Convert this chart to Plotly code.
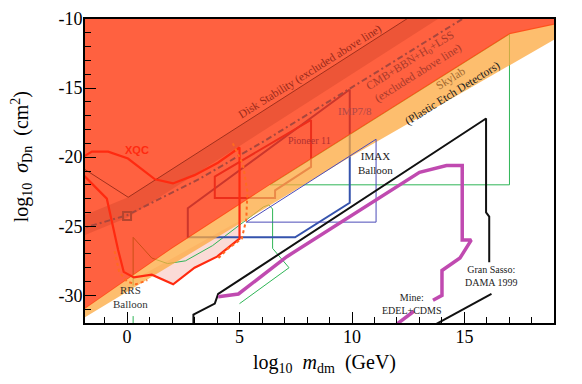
import plotly.graph_objects as go

# ---------------- data (log10 m_dm [GeV], log10 sigma [cm^2]) ----------------
red_edge_x = [-2.2, 2.0, 6.36, 17.0, 19.3]
red_edge_y = [-31.35, -26.6, -22.0, -11.1, -10.3]
orange_edge_x = [-2.2, 4.6, 9.8, 19.3]
orange_edge_y = [-31.9, -25.2, -20.1, -11.2]

disk_x = [-2.2, 0.05, 13.1]
disk_y = [-20.55, -22.9, -9.3]
band_x = [-2.2, 0.05, 13.1, 14.49, 0.05, -2.2]
band_y = [-24.4, -22.9, -9.3, -9.3, -24.35, -25.85]

cmb_x = [-2.2, 0.0, 3.24, 6.13, 11.24, 15.2]
cmb_y = [-25.25, -24.2, -21.55, -18.8, -13.7, -9.7]
cmb_square_x = [0.0]
cmb_square_y = [-24.25]

xqc_x = [-2.2, -1.56, -0.84, 0.04, 1.24, 2.04, 3.0, 4.04, 5.0, 5.0, 4.0, 3.0,
         2.05, 1.1, 0.3, -0.15, -0.4, -0.9, -2.2]
xqc_y = [-20.2, -19.6, -19.6, -20.1, -21.6, -21.9, -21.3, -20.4, -19.3, -25.9,
         -27.2, -28.0, -29.2, -28.5, -28.7, -28.3, -26.7, -23.0, -20.86]
xqc_pink_x = [0.6, 1.1, 2.05, 3.0, 4.0, 5.0, 5.0, 0.6]
xqc_pink_y = [-28.6, -28.5, -29.2, -28.0, -27.2, -25.9, -24.6, -28.6]
xqc_dot_x = [-0.55, -0.35, 0.0, 0.4, 0.9, None, 4.7, 5.15, 5.35, 5.3, 5.1, 4.5, 4.0]
xqc_dot_y = [-26.8, -28.3, -29.0, -29.2, -28.9, None, -19.0, -20.5, -22.5, -24.5,
             -25.9, -26.6, -27.4]

rrs_x = [0.27, 0.27, None, 0.27, 1.1, 1.8, 2.6, 3.8, 4.7, 5.5, 6.06, 6.3, 6.47,
         6.47, 7.2, 5.0, None, 0.27, 0.27]
rrs_y = [-29.3, -25.8, None, -25.8, -27.3, -27.7, -27.5, -26.4, -25.3, -24.3, -23.6,
         -23.45, -23.75, -26.6, -28.0, -30.6, None, -31.5, -32.5]
skylab_x = [6.36, 17.0, 17.0, 6.36]
skylab_y = [-22.0, -22.0, -11.1, -22.0]

imp_x = [9.9, 9.9, 7.47, 2.7, 2.7, 9.9]
imp_y = [-15.1, -23.3, -25.8, -25.8, -23.7, -15.1]
pioneer_x = [8.18, 8.18, 6.58, 6.58, 3.9, 3.9, 8.18]
pioneer_y = [-17.3, -20.7, -22.4, -22.95, -22.95, -21.4, -17.3]
imax_x = [5.3, 11.07, 11.07, 5.3]
imax_y = [-24.7, -18.7, -24.7, -24.7]

dama_x = [2.95, 2.95, 3.9, 4.05, 15.96, 15.96, 16.1, 16.1, None, 16.2, 13.6]
dama_y = [-32.5, -31.4, -30.6, -29.9, -17.2, -24.0, -24.3, -27.6, None, -29.9, -32.2]
edel_x = [4.05, 4.95, 7.1, 13.0, 14.2, 14.9, 14.9, 15.3, 14.8, 14.0, 14.0, 13.6,
          None, 12.75, 11.9]
edel_y = [-30.1, -29.9, -27.2, -21.1, -20.6, -20.6, -26.0, -26.0, -27.3, -28.2,
          -30.0, -30.35, None, -31.15, -32.2]

x_tickvals = [0, 5, 10, 15]
x_ticktext = ["0", "5", "10", "15"]
y_tickvals = [-10, -15, -20, -25, -30]
y_ticktext = ["-10", "-15", "-20", "-25", "-30"]

# ---------------- figure ----------------
fig = go.Figure()
SERIF = "Liberation Serif, Times New Roman, DejaVu Serif, serif"


def fill(xs, ys, color):
    fig.add_trace(go.Scatter(x=xs, y=ys, mode="lines", fill="toself", fillcolor=color,
                             line=dict(width=0, color=color), hoverinfo="skip"))


def line(xs, ys, color, width, dash="solid"):
    fig.add_trace(go.Scatter(x=xs, y=ys, mode="lines", line=dict(color=color, width=width, dash=dash),
                             hoverinfo="skip", connectgaps=False))


# pink XQC region (below everything)
fill(xqc_pink_x, xqc_pink_y, "rgba(245,160,150,0.38)")

# lines that sit under the translucent exclusion fills
line(rrs_x, rrs_y, "#2fb556", 1)
line(skylab_x, skylab_y, "#2fb556", 1)
line(imp_x, imp_y, "#3553ad", 2)
line(pioneer_x, pioneer_y, "#b8306a", 2)

# orange Skylab band
orange_x = red_edge_x + orange_edge_x[::-1]
orange_y = [v + 0.08 for v in red_edge_y] + orange_edge_y[::-1]
fill(orange_x, orange_y, "rgba(252,168,62,0.75)")

# big red excluded region
red_x = red_edge_x + [19.3, -2.2]
red_y = red_edge_y + [-9.0, -9.0]
fill(red_x, red_y, "rgba(255,44,0,0.75)")

# darker band along disk stability / cosmology lines
fill(band_x, band_y, "rgba(150,30,10,0.17)")

# lines on top
line(imax_x, imax_y, "#4b4bb8", 1)
line(dama_x, dama_y, "#111111", 2)
line(edel_x, edel_y, "#c04ab0", 3.5)
line(disk_x, disk_y, "#a2301c", 1)
line(cmb_x, cmb_y, "#a8473d", 2, "6px,3px,2px,3px")
fig.add_trace(go.Scatter(x=cmb_square_x, y=cmb_square_y, mode="markers",
                         marker=dict(symbol="square-open", size=8, color="#b4452f",
                                     line=dict(width=2, color="#b4452f")), hoverinfo="skip"))
line(xqc_x, xqc_y, "#ff2a10", 2.2)
line(xqc_dot_x, xqc_dot_y, "#ff6a20", 2, "dot")


# ---------------- labels ----------------
def label(x, y, text, color, size, angle=0, fam=SERIF):
    fig.add_annotation(x=x, y=y, text=text, showarrow=False, textangle=angle,
                       font=dict(family=fam, size=size, color=color),
                       xanchor="center", yanchor="middle")


label(0.44, -19.5, "<b>XQC</b>", "#ff2a10", 11, fam="Liberation Sans, Arial, sans-serif")
label(8.15, -13.8, "Disk Stability (excluded above line)", "#9a2a1a", 11.5, -32)
label(12.76, -13.5, "CMB+BBN+H<sub>0</sub>+LSS<br>(excluded above line)", "#a83a2a", 11.5, -32)
label(14.4, -14.34, "Skylab", "#a0682e", 11.5, -32)
label(14.46, -15.39, "(Plastic Etch Detectors)", "#222222", 11.5, -32)
label(10.13, -16.66, "IMP7/8", "#b04848", 11)
label(8.09, -18.76, "Pioneer 11", "#b03030", 10)
label(11.06, -20.42, "IMAX<br>Balloon", "#222222", 11)
label(0.17, -30.1, "RRS<br>Balloon", "#333333", 11)
label(16.2, -28.57, "Gran Sasso:<br>DAMA 1999", "#222222", 10)
label(12.66, -30.59, "Mine:<br>EDEL+CDMS", "#222222", 10)

# axis titles as paper annotations
fig.add_annotation(xref="paper", yref="paper", x=0.51, y=0, yshift=-40, xanchor="center",
                   yanchor="middle", showarrow=False,
                   text="log<sub>10</sub>\u00a0\u00a0<i>m</i><sub>dm</sub>\u00a0\u00a0(GeV)",
                   font=dict(family=SERIF, size=20, color="black"))
fig.add_annotation(xref="paper", yref="paper", x=0, y=0.545, xshift=-63, xanchor="center",
                   yanchor="middle", showarrow=False, textangle=-90,
                   text="log<sub>10</sub>\u00a0\u00a0<i>σ</i><sub>Dn</sub>\u00a0\u00a0(cm<sup>2</sup>)",
                   font=dict(family=SERIF, size=20, color="black"))

axis_font = dict(family=SERIF, size=18, color="black")
common = dict(ticks="inside", ticklen=11, tickwidth=1.2, tickcolor="black", showline=True,
              linewidth=2, linecolor="black", mirror=True, showgrid=False, zeroline=False,
              tickfont=axis_font, automargin=False)
minor = dict(tickmode="linear", tick0=0, dtick=1, ticks="inside", ticklen=6,
             tickcolor="black", tickwidth=1)

fig.update_xaxes(range=[-1.87, 18.98], tickvals=x_tickvals, ticktext=x_ticktext,
                 minor=minor, ticklabelstandoff=-4, **common)
fig.update_yaxes(range=[-32, -10], tickvals=y_tickvals, ticktext=y_ticktext,
                 minor=minor, ticklabelstandoff=-3, **common)

fig.update_layout(width=582, height=384, margin=dict(l=85, r=28, t=19, b=61),
                  plot_bgcolor="white", paper_bgcolor="white", showlegend=False)

fig.write_html("out.html", config={"displayModeBar": False},
               post_script="document.body.style.margin='0';document.body.style.padding='0';")
